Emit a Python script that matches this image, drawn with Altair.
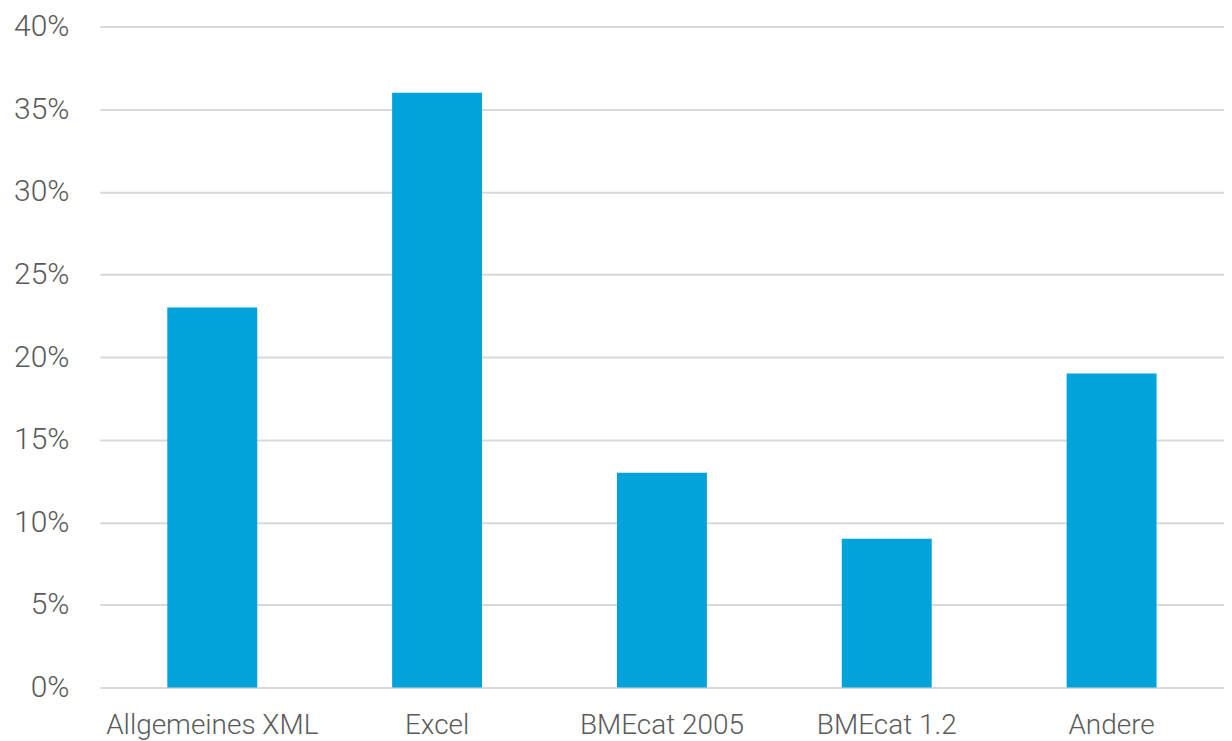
import altair as alt
import pandas as pd

categories = ["Allgemeines XML", "Excel", "BMEcat 2005", "BMEcat 1.2", "Andere"]
values = [0.23, 0.36, 0.13, 0.09, 0.19]

df = pd.DataFrame({"Format": categories, "Anteil": values})

chart = alt.Chart(df).mark_bar(color="#02A3DA").encode(
    x=alt.X("Format:N", sort=categories, title=None,
            scale=alt.Scale(paddingInner=0.6, paddingOuter=0.3),
            axis=alt.Axis(labelAngle=0, labelFontSize=28, labelColor="#5a5a5a",
                          labelFont="Roboto", labelFontWeight=300, labelPadding=24,
                          labelLimit=0, ticks=False, domain=False)),
    y=alt.Y("Anteil:Q", title=None,
            scale=alt.Scale(domain=[0, 0.4]),
            axis=alt.Axis(format=".0%", values=[0, .05, .1, .15, .2, .25, .3, .35, .4],
                          labelFontSize=30, labelColor="#5a5a5a", labelFont="Roboto",
                          labelFontWeight=300, labelPadding=31, ticks=False, domain=False,
                          gridColor="#d9d9d9", gridWidth=2)),
).properties(
    width=1126, height=662,
    padding={"left": 5, "top": 3, "right": 0, "bottom": 0},
).configure_view(stroke=None)

chart.save("out.html", embed_options={"renderer": "svg", "actions": False})
